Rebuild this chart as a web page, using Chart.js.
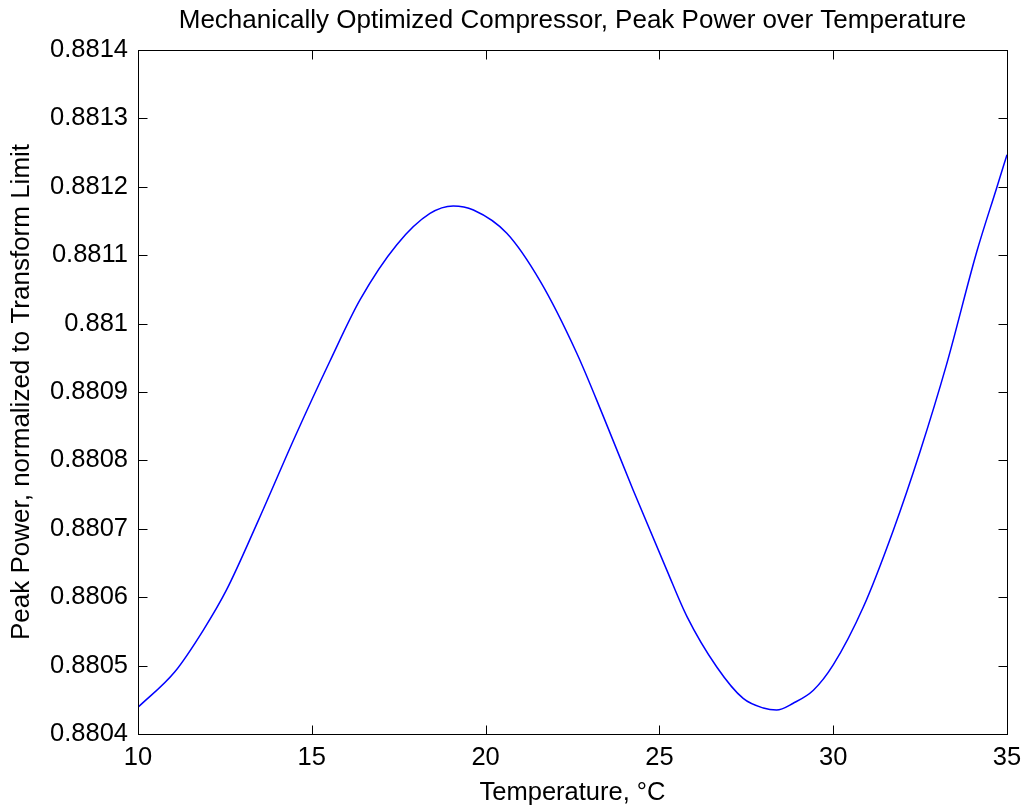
<!DOCTYPE html>
<html>
<head>
<meta charset="utf-8">
<script src="https://cdn.jsdelivr.net/npm/chart.js@4"></script>
<style>
  html, body { margin: 0; padding: 0; background: #fff; }
  #wrap { width: 1024px; height: 809px; }
</style>
</head>
<body>
<div id="wrap"><canvas id="c" width="1024" height="809"></canvas></div>
<script>
// ── data ──────────────────────────────────────────────────────────────────
const temps = [10.00, 11.06, 11.88, 12.55, 13.46, 14.52, 15.52, 16.39, 17.44, 18.40,
  19.07, 19.65, 20.61, 21.57, 22.62, 23.39, 24.25, 25.21, 25.79, 26.65,
  27.41, 27.99, 28.37, 28.85, 29.43, 30.00, 30.87, 31.73, 32.50, 33.26,
  34.13, 34.70, 35.00];
const peakPower = [0.880439, 0.880491, 0.880552, 0.880611, 0.880712, 0.880835, 0.880945, 0.881035, 0.881115, 0.881161,
  0.881172, 0.881166, 0.881132, 0.881062, 0.880957, 0.880864, 0.880756, 0.880640, 0.880572, 0.880498,
  0.880452, 0.880438, 0.880435, 0.880445, 0.880464, 0.880501, 0.880586, 0.880698, 0.880813, 0.880940,
  0.881105, 0.881198, 0.881247];

const xTicks = [10, 15, 20, 25, 30, 35];
const yTicks = [0.8804, 0.8805, 0.8806, 0.8807, 0.8808, 0.8809, 0.881, 0.8811, 0.8812, 0.8813, 0.8814];

const FONT = '"Liberation Sans", Arial, Helvetica, sans-serif';
const TICK_LEN = 9;

// MATLAB-style box with inward ticks on all four sides
const boxTicks = {
  id: 'boxTicks',
  afterDraw(chart) {
    const { ctx, chartArea: a, scales } = chart;
    const L = Math.round(a.left) + 0.5, R = Math.round(a.right) + 0.5;
    const T = Math.round(a.top) + 0.5, B = Math.round(a.bottom) + 0.5;
    ctx.save();
    ctx.strokeStyle = '#000';
    ctx.lineWidth = 1;
    ctx.strokeRect(L, T, R - L, B - T);
    ctx.beginPath();
    scales.x.ticks.forEach(t => {
      const px = Math.round(scales.x.getPixelForValue(t.value)) + 0.5;
      ctx.moveTo(px, B); ctx.lineTo(px, B - TICK_LEN);
      ctx.moveTo(px, T); ctx.lineTo(px, T + TICK_LEN);
    });
    scales.y.ticks.forEach(t => {
      const py = Math.round(scales.y.getPixelForValue(t.value)) + 0.5;
      ctx.moveTo(L, py); ctx.lineTo(L + TICK_LEN, py);
      ctx.moveTo(R, py); ctx.lineTo(R - TICK_LEN, py);
    });
    ctx.stroke();
    ctx.restore();
  }
};

new Chart(document.getElementById('c'), {
  type: 'line',
  data: {
    datasets: [{
      data: temps.map((t, i) => ({ x: t, y: peakPower[i] })),
      borderColor: '#0000ff',
      borderWidth: 1.5,
      pointRadius: 0,
      fill: false,
      cubicInterpolationMode: 'monotone',
    }],
  },
  options: {
    responsive: false,
    animation: false,
    layout: { padding: { left: 0, right: 17, top: 0, bottom: 0 } },
    plugins: { legend: { display: false }, tooltip: { enabled: false } },
    scales: {
      x: {
        type: 'linear', min: 10, max: 35,
        afterBuildTicks: s => { s.ticks = xTicks.map(v => ({ value: v })); },
        afterFit: s => { s.height = 75; s.paddingLeft = 0; s.paddingRight = 0; },
        grid: { display: false, drawTicks: false },
        border: { display: false },
        ticks: { color: '#000', padding: 9, font: { family: FONT, size: 25.5 } },
        title: {
          display: true, text: 'Temperature, °C', color: '#000',
          font: { family: FONT, size: 25.5 }, padding: { top: 0, bottom: 1 },
        },
      },
      top: {
        type: 'linear', position: 'top', min: 10, max: 35,
        afterFit: s => { s.height = 50; s.paddingLeft = 0; s.paddingRight = 0; },
        grid: { display: false, drawTicks: false },
        border: { display: false },
        ticks: { display: false },
        title: {
          display: true, text: 'Mechanically Optimized Compressor, Peak Power over Temperature',
          color: '#000', font: { family: FONT, size: 26 }, padding: { top: 5, bottom: 0 },
        },
      },
      y: {
        type: 'linear', min: 0.8804, max: 0.8814,
        afterBuildTicks: s => { s.ticks = yTicks.map(v => ({ value: v })); },
        afterFit: s => { s.width = 138; },
        grid: { display: false, drawTicks: false },
        border: { display: false },
        ticks: {
          color: '#000', padding: 10, font: { family: FONT, size: 25.5 },
          callback: v => String(parseFloat(v.toFixed(4))),
        },
        title: {
          display: true, text: 'Peak Power, normalized to Transform Limit', color: '#000',
          font: { family: FONT, size: 26 }, padding: { top: 6, bottom: 0 },
        },
      },
    },
  },
  plugins: [boxTicks],
});
</script>
</body>
</html>
